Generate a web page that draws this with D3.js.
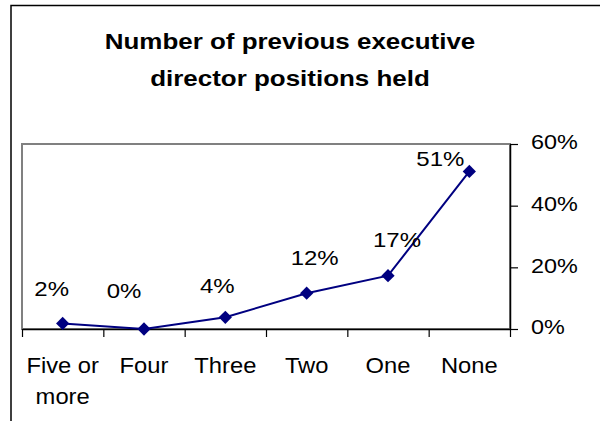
<!DOCTYPE html>
<html>
<head>
<meta charset="utf-8">
<script src="https://cdn.jsdelivr.net/npm/d3@7"></script>
<style>
  body { margin: 0; background: #fff; }
  text { font-family: "Liberation Sans", Arial, sans-serif; fill: #000; }
</style>
</head>
<body>
<script>
// chart data
var categories = ["Five or more", "Four", "Three", "Two", "One", "None"];
var shares = [0.018, 0.0, 0.038, 0.116, 0.173, 0.511];
var yTicks = [0, 0.2, 0.4, 0.6];
var titleLines = ["Number of previous executive", "director positions held"];

var svgWidth = 600;
var svgHeight = 421;

// plot area box
var plot = { left: 22, right: 510, top: 144, bottom: 329 };

var svg = d3.select("body")
            .append("svg")
            .attr("width", svgWidth)
            .attr("height", svgHeight);

// outer chart frame (runs off the right and bottom edges)
svg.append("rect")
   .attr("x", 11).attr("y", 5.5)
   .attr("width", 640).attr("height", 460)
   .attr("fill", "none")
   .attr("stroke", "#000")
   .attr("stroke-width", 1.5);

// title, slightly stretched sideways like the original
var title = svg.append("g");
titleLines.forEach(function(line, i) {
  title.append("text")
       .attr("transform", "translate(290," + (49 + i * 37) + ") scale(1.18,1)")
       .attr("text-anchor", "middle")
       .style("font-size", "22px")
       .style("font-weight", "bold")
       .text(line);
});

// scales
var x = d3.scaleBand()
          .domain(categories)
          .range([plot.left, plot.right])
          .padding(0);

var xEdge = d3.scaleLinear()
              .domain([0, categories.length])
              .range([plot.left, plot.right]);

var y = d3.scaleLinear()
          .domain([0, 0.6])
          .range([plot.bottom, plot.top]);

var pct = d3.format(".0%");

// plot area border
svg.append("rect")
   .attr("x", plot.left).attr("y", plot.top)
   .attr("width", plot.right - plot.left)
   .attr("height", plot.bottom - plot.top)
   .attr("fill", "none")
   .attr("stroke", "#808080")
   .attr("stroke-width", 2);

// right value axis
var yAxis = svg.append("g")
               .attr("transform", "translate(" + plot.right + ",0)")
               .call(d3.axisRight(y).tickValues(yTicks).tickSize(8).tickSizeOuter(0).tickFormat(pct));
yAxis.select(".domain").attr("stroke", "#000").attr("stroke-width", 1.5);
yAxis.selectAll(".tick line").attr("stroke", "#000").attr("stroke-width", 1.2);
yAxis.selectAll(".tick text")
     .attr("x", 0)
     .attr("dy", "0.25em")
     .attr("transform", "translate(21,0) scale(1.2,1)")
     .style("font-size", "19.5px");

// category boundary ticks
var xTickAxis = svg.append("g")
                   .attr("transform", "translate(0," + plot.bottom + ")")
                   .call(d3.axisBottom(xEdge).tickValues(d3.range(categories.length + 1))
                           .tickSize(8).tickSizeOuter(0).tickFormat(""));
xTickAxis.select(".domain").attr("stroke", "#000").attr("stroke-width", 1.5);
xTickAxis.selectAll(".tick line").attr("stroke", "#000").attr("stroke-width", 1.2);

// category labels, wrapped to the band width
var xLabels = svg.append("g")
                 .attr("transform", "translate(0," + plot.bottom + ")")
                 .call(d3.axisBottom(x).tickSize(0));
xLabels.select(".domain").remove();
xLabels.selectAll(".tick text").each(function(d) {
  var t = d3.select(this);
  var sx = 1.08;
  t.text(null)
   .attr("y", null).attr("dy", null)
   .attr("transform", "scale(" + sx + ",1)")
   .style("font-size", "22px");
  var words = d.split(" ");
  var lines = [];
  var current = [];
  var probe = t.append("tspan");
  words.forEach(function(w) {
    var trial = current.concat([w]).join(" ");
    probe.text(trial);
    if (current.length && probe.node().getComputedTextLength() * sx > x.bandwidth() - 4) {
      lines.push(current.join(" "));
      current = [w];
    } else {
      current.push(w);
    }
  });
  lines.push(current.join(" "));
  probe.remove();
  lines.forEach(function(line, i) {
    t.append("tspan").attr("x", 0).attr("y", 44 + i * 31).text(line);
  });
});

// series line
var line = d3.line()
             .x(function(d, i) { return x(categories[i]) + x.bandwidth() / 2; })
             .y(function(d) { return y(d); });

svg.append("path")
   .datum(shares)
   .attr("d", line)
   .attr("fill", "none")
   .attr("stroke", "#000080")
   .attr("stroke-width", 2);

// diamond markers
svg.selectAll(".marker")
   .data(shares)
   .enter()
   .append("path")
   .attr("class", "marker")
   .attr("d", d3.symbol(d3.symbolSquare, 88))
   .attr("transform", function(d, i) {
     return "translate(" + (x(categories[i]) + x.bandwidth() / 2) + "," + y(d) + ") rotate(45)";
   })
   .attr("fill", "#000080");

// data labels, nudged where the original had them moved
var labelNudge = [[-11, -27], [-20, -31], [-8, -24], [8, -28], [9, -29], [-29, -5]];
svg.selectAll(".dlabel")
   .data(shares)
   .enter()
   .append("text")
   .attr("class", "dlabel")
   .attr("text-anchor", "middle")
   .attr("transform", function(d, i) {
     var cx = x(categories[i]) + x.bandwidth() / 2 + labelNudge[i][0];
     var cy = y(d) + labelNudge[i][1];
     return "translate(" + cx + "," + cy + ") scale(1.2,1)";
   })
   .style("font-size", "20px")
   .text(function(d) { return pct(d); });
</script>
</body>
</html>
